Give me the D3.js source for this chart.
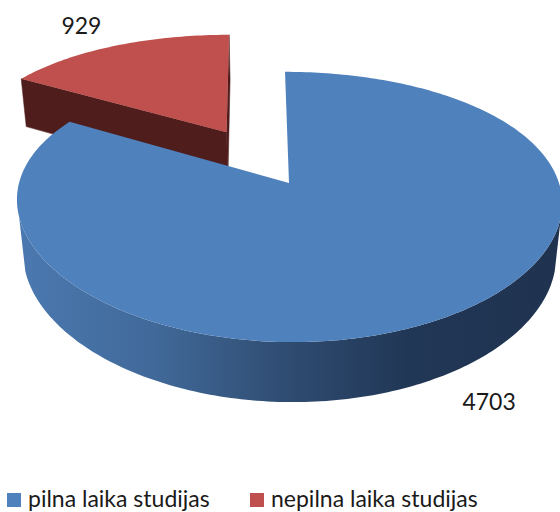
<!DOCTYPE html>
<html>
<head>
<meta charset="utf-8">
<script src="https://cdn.jsdelivr.net/npm/d3@7"></script>
<style>
  body { margin: 0; background: #fff; }
  svg { display: block; }
</style>
</head>
<body>
<div id="chart"></div>
<script>
// values
const categories = ["pilna laika studijas", "nepilna laika studijas"];
const values = [4703, 929];
const labels = ["4703", "929"];

const width = 560, height = 512;
const topColors = ["#4f81bd", "#c0504d"];
const sideColors = ["url(#blueSide)", "#4f1d1c"];
const edgeColors = ["#1f3350", "#4f1d1c"];
const explode = [0, 0.48];
const labelShift = [[44, 84], [-33, -20]];

// simple perspective camera for the 3d pie
const cx = 289, cy = 183, f = 1331, D = 4.93;
const tilt = 29 * Math.PI / 180;
const sn = Math.sin(tilt), cs = Math.cos(tilt);
const thick = 0.23, shear = 4, widen = 0.04;

// x: right, y: up, z: towards viewer
let project = function (x, y, z) {
    const zp = y * sn + z * cs;
    const yp = y * cs - z * sn;
    const k = f / (D - zp);
    return [cx + x * k * (1 - widen * z) + shear * z, cy - yp * k];
};

// unit vector on the disc for a pie angle (0 = back, clockwise)
let dir = a => [Math.sin(a), -Math.cos(a)];

let svg = d3.select("#chart")
    .append("svg")
    .attr("width", width)
    .attr("height", height);

let grad = svg.append("defs").append("linearGradient")
    .attr("id", "blueSide")
    .attr("gradientUnits", "userSpaceOnUse")
    .attr("x1", 14).attr("x2", 560).attr("y1", 0).attr("y2", 0);
[[0, "#4b79b1"], [0.25, "#416a9a"], [0.5, "#2f4c71"], [0.72, "#213756"], [1, "#1f3350"]]
    .forEach(s => grad.append("stop").attr("offset", s[0]).attr("stop-color", s[1]));

let pie = d3.pie().sort(null).value(d => d);
let arcs = pie(values);

let line = d3.line();
const camX = 0, camZ = D * cs;

let sliceGeom = function (d, i) {
    const mid = (d.startAngle + d.endAngle) / 2;
    const m = dir(mid);
    const ox = m[0] * explode[i], oz = m[1] * explode[i];
    const steps = Math.max(8, Math.round((d.endAngle - d.startAngle) * 180 / Math.PI));
    const angles = d3.range(steps + 1).map(j => d.startAngle + (d.endAngle - d.startAngle) * j / steps);
    return { ox, oz, angles, mid };
};

let drawSlice = function (d, i) {
    const g = svg.append("g").attr("class", "slice");
    const s = sliceGeom(d, i);
    const pt = (a, y) => { const u = dir(a); return project(s.ox + u[0], y, s.oz + u[1]); };
    const apexTop = project(s.ox, 0, s.oz), apexBot = project(s.ox, -thick, s.oz);

    // radial faces
    [[d.startAngle, -1], [d.endAngle, 1]].forEach(e => {
        const a = e[0];
        const n = [e[1] * Math.cos(a), e[1] * Math.sin(a)];
        const vis = (camX - s.ox) * n[0] + (camZ - s.oz) * n[1];
        if (vis > 0) {
            g.append("path")
                .attr("d", line([apexTop, pt(a, 0), pt(a, -thick), apexBot]) + "Z")
                .attr("fill", edgeColors[i])
                .attr("stroke", edgeColors[i]).attr("stroke-width", 0.5);
        }
    });

    // outer side, visible runs only
    let runs = [], cur = null;
    s.angles.forEach(a => {
        const u = dir(a);
        const vis = (camX - s.ox - u[0]) * u[0] + (camZ - s.oz - u[1]) * u[1];
        if (vis > 0) { if (!cur) { cur = []; runs.push(cur); } cur.push(a); }
        else cur = null;
    });
    runs.forEach(r => {
        if (r.length < 2) return;
        const pts = r.map(a => pt(a, 0)).concat(r.slice().reverse().map(a => pt(a, -thick)));
        g.append("path")
            .attr("d", line(pts) + "Z")
            .attr("fill", sideColors[i]);
    });

    // top face
    const topPts = [apexTop].concat(s.angles.map(a => pt(a, 0)));
    g.append("path")
        .attr("d", line(topPts) + "Z")
        .attr("fill", topColors[i]);
};

// back slice first
d3.range(arcs.length)
    .sort((a, b) => dir((arcs[a].startAngle + arcs[a].endAngle) / 2)[1] - dir((arcs[b].startAngle + arcs[b].endAngle) / 2)[1])
    .forEach(i => drawSlice(arcs[i], i));

// data labels
arcs.forEach((d, i) => {
    const s = sliceGeom(d, i);
    const u = dir(s.mid);
    const p = project(s.ox + u[0], 0, s.oz + u[1]);
    svg.append("text")
        .attr("x", p[0] + labelShift[i][0])
        .attr("y", p[1] + labelShift[i][1])
        .attr("dy", "0.36em")
        .attr("text-anchor", "middle")
        .style("font-family", "Lato, 'Open Sans', sans-serif")
        .style("font-size", "23px")
        .attr("fill", "#1a1a1a")
        .text(labels[i]);
});

// legend
const legendX = [7, 250];
let legend = svg.append("g").attr("class", "legend");
categories.forEach((c, i) => {
    legend.append("rect")
        .attr("x", legendX[i]).attr("y", 493)
        .attr("width", 14).attr("height", 14)
        .attr("fill", topColors[i]);
    legend.append("text")
        .attr("x", legendX[i] + 21).attr("y", 507)
        .style("font-family", "Lato, 'Open Sans', sans-serif")
        .style("font-size", "23px")
        .attr("fill", "#1a1a1a")
        .text(c);
});
</script>
</body>
</html>
